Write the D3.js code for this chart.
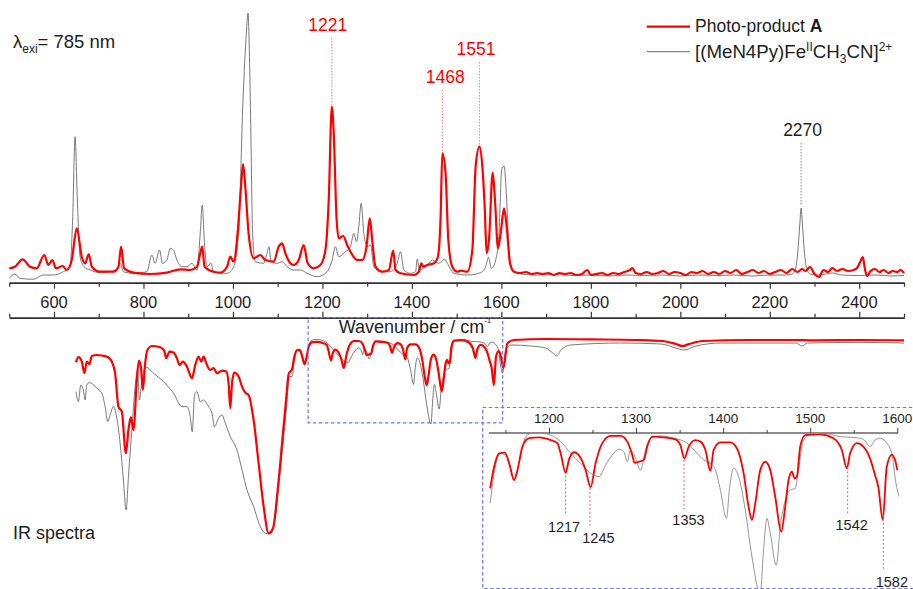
<!DOCTYPE html>
<html><head><meta charset="utf-8">
<script src="https://cdn.jsdelivr.net/npm/d3@7"></script>
<style>
html,body{margin:0;padding:0;background:#fff;}
svg{display:block;font-family:Arial,"Liberation Sans",Helvetica,sans-serif;}
</style></head><body>
<svg id="chart" width="913" height="589"></svg>
<script>
// ---------------- DATA ----------------
// Raman (lambda_exi = 785 nm): [wavenumber cm-1, intensity a.u.]
const ramanRed = [[500,11.7],[512.8,13.3],[530,20.7],[546.3,13.3],[561.3,11.7],[578.3,25],[587.3,15],[596.3,20],[604.5,11.7],[619.5,14],[628.5,10],[639.7,20],[650.9,51.7],[662.1,23.3],[669.5,16.7],[677.7,26],[684.5,13.3],[703,8.3],[732.8,8.3],[744,13.3],[750,33.3],[756.8,11.7],[777.6,7.3],[815,6],[852.4,7.3],[882.1,10.7],[904.5,10],[919.5,13.3],[926.9,26.7],[931.4,33.3],[936.5,13.3],[956.7,8.3],[971.7,7.3],[986.7,13.3],[994.1,23.3],[1001.5,18.3],[1010.4,46.7],[1018,93.3],[1022.5,116],[1027.6,93.3],[1035,46.7],[1046.2,21.7],[1061.2,25],[1072.4,20],[1091,18.3],[1102.2,33.3],[1109.8,36.7],[1117.2,26.7],[1128.4,16.7],[1135.8,15],[1147,20],[1158.2,35],[1167.1,16.7],[1180.5,11.7],[1195.5,15],[1206.7,30],[1214.1,80],[1221,173.3],[1225.3,146.7],[1231.4,63.3],[1236.5,41.7],[1246.4,44],[1255.3,35],[1262.7,28.3],[1277.7,20],[1288.9,20],[1298.5,33.3],[1305.9,61.7],[1311.3,40],[1318.7,13.3],[1333.7,8.3],[1348.5,10],[1358.3,29.3],[1363.4,10],[1374.6,6.7],[1404.4,5],[1415.6,8.3],[1421,16.7],[1425.4,13.3],[1434.4,15],[1449.2,16.7],[1458.1,23.3],[1464.2,63.3],[1468,126.7],[1475.3,106.7],[1481.4,40],[1490.3,13.3],[1501.5,8.3],[1508.9,9.3],[1523.9,8.3],[1535.1,30],[1542.5,113.3],[1551,133.3],[1557.5,113.3],[1562.7,73.3],[1567.1,26.7],[1572.3,40],[1580.6,107.3],[1585.7,80],[1592.4,31.7],[1598.5,46.7],[1605.9,71.7],[1611.9,53.3],[1619.3,16.7],[1628.3,8.3],[1642,7],[1655,8],[1668,6],[1680,7],[1692,6],[1705,7],[1717,5],[1730,7],[1742,6],[1755,7],[1768,5],[1780,6],[1792,10],[1800,5],[1812,6],[1825,7],[1837,5],[1850,7],[1862,6],[1875,8],[1887,10],[1893,12],[1900,7],[1912,6],[1925,8],[1937,6],[1950,7],[1962,9],[1975,6],[1987,8],[2000,7],[2012,5],[2025,8],[2037,7],[2050,9],[2062,6],[2075,8],[2087,6],[2100,9],[2112,7],[2125,10],[2137,6],[2150,8],[2162,10],[2175,7],[2187,9],[2200,6],[2212,8],[2225,10],[2237,7],[2250,11],[2262,8],[2272,11],[2280,9],[2290,13],[2300,6],[2310,3],[2320,10],[2330,8],[2340,12],[2350,9],[2362,11],[2375,9],[2387,10],[2395,12],[2402,18],[2408,23],[2413,10],[2418,4],[2425,9],[2435,11],[2445,8],[2455,10],[2465,7],[2475,9],[2485,8],[2492,10],[2500,7]];
const ramanGray = [[500,1.7],[512.8,6],[524,1.7],[553.7,0.7],[576.1,5],[598.5,5],[620.9,8.3],[635.9,13.3],[641.9,63.3],[647.1,143.3],[652.2,80],[658.3,23.3],[667.2,13.3],[680.7,10],[703,7.3],[740.4,10],[747.8,16.7],[755.2,8.3],[777.6,6.7],[807.6,8.3],[818.8,25],[826.2,16.7],[835.8,30],[842.5,16.7],[852.4,20],[859.7,31.7],[867.1,30],[874.7,20],[885.9,13.3],[897.1,13.3],[908.3,16.7],[919.5,10],[926.9,46.7],[931.4,75],[935.9,40],[941.9,13.3],[950.9,16.7],[956.7,8.3],[986.7,6.7],[1001.5,13.3],[1012.6,46.7],[1022.5,180],[1029.9,246.7],[1033.7,266.7],[1038.8,180],[1044,46.7],[1050,18.3],[1068.6,16.7],[1076.2,26.7],[1080.7,33.3],[1085.2,18.3],[1098.6,16.7],[1109.8,18.3],[1121,13.3],[1135.8,10],[1150.8,10],[1165.8,6.7],[1188.1,3.3],[1210.5,8.3],[1221.7,20],[1229.1,33.3],[1236.5,23.3],[1251.5,28.3],[1262.7,33.3],[1270.1,46.7],[1276.1,38.3],[1281.3,53.3],[1286.6,76.7],[1292.5,46.7],[1300.1,33.3],[1307.5,35],[1314.9,13.3],[1329.8,8.3],[1352.2,8.3],[1367.2,16.7],[1374.6,28.3],[1382,10],[1397,6.7],[1408.2,8.3],[1412,20.7],[1416.5,10],[1434.4,15],[1445.6,20],[1460.4,16.7],[1473.1,20.7],[1479.2,16.7],[1494,6.7],[1523.9,5],[1553.7,7.3],[1564.9,13.3],[1571,22.7],[1577.7,11.7],[1587.3,20],[1594.7,46.7],[1600.7,110],[1605.9,114],[1611.9,80],[1617.1,30],[1624.7,10],[1643.3,6],[1680,5],[1720,5.5],[1760,4.5],[1800,5],[1840,4],[1880,5],[1920,4.5],[1960,5],[2000,4],[2040,5],[2080,4.5],[2120,5],[2160,4],[2200,5],[2235,5],[2250,6],[2258,12],[2263,30],[2267,55],[2270,72],[2273,55],[2277,30],[2282,12],[2290,6],[2310,5],[2340,7],[2360,5],[2400,4.5],[2440,5],[2470,4],[2500,4.5]];

// IR spectra: [wavenumber cm-1, transmittance a.u.]
const irRed = [[649,93.9],[654.5,96.4],[662.1,94.2],[667.9,88.4],[673.3,94.2],[679.1,92.9],[684.5,97],[695.7,97.5],[718,96.7],[729.2,94.2],[736.6,88.4],[744,71.7],[751.6,69.2],[760.6,48.4],[766.4,60],[771.8,66.4],[777.6,60],[785.2,85],[789.7,94.7],[794.2,91.7],[798.6,80],[803.8,93.4],[808.9,100],[818.8,102],[837.4,101.4],[846.3,99.7],[850.8,95.9],[858.2,99.2],[867.1,98.7],[874.7,95.9],[880.6,92.5],[888.2,94.2],[897.1,91.7],[908.3,85.9],[915.7,92.5],[923.1,96.7],[929.1,94.2],[934.3,96.7],[941.9,92.5],[949.3,90],[956.7,90.9],[964.3,88.4],[975.5,89.7],[985.1,89.2],[990.2,83.4],[994.1,70.9],[997.9,83.4],[1003,88.7],[1012.6,86.7],[1020.3,81.7],[1027.6,78.7],[1035,77.5],[1046.2,65],[1057.4,43.4],[1068.6,21.7],[1079.8,8.4],[1089.6,10.9],[1100,30],[1109.8,53.4],[1119.4,76.7],[1124.6,88],[1132.4,90.7],[1137,96.4],[1142.7,99.9],[1149.2,100.1],[1154.2,97.3],[1159.9,92.9],[1163.8,95.5],[1169.5,101.7],[1177.1,103.9],[1188.5,104.1],[1202,103.4],[1209.6,102.6],[1213.4,99.9],[1219.1,94.8],[1222.9,98.2],[1228.7,100.2],[1235.5,99],[1242.1,95.5],[1247.8,91],[1253.5,97.3],[1261.2,102.6],[1270.7,104.5],[1282.2,104.5],[1289.9,103],[1295.6,99.5],[1298.2,97.4],[1303.2,97.7],[1308.9,98.2],[1312.8,101.7],[1318.5,104.3],[1331.8,104.1],[1345.2,103.6],[1350.9,102.1],[1355.5,98.6],[1360.5,101.7],[1368.1,103.4],[1373.9,103],[1379.6,100.8],[1385.3,95.3],[1389.1,100.8],[1396.8,102.8],[1408.3,102.8],[1415.9,101.2],[1423.5,94.7],[1429.2,85.9],[1433.1,82.4],[1436.9,86.8],[1442.6,95.5],[1448.4,97.7],[1454.1,95.5],[1459.8,88.5],[1466.7,79.3],[1471.3,85.9],[1475.1,92.9],[1479,95.1],[1482,93.3],[1484.7,93.8],[1488.5,101.7],[1494.2,104.7],[1511.4,104.9],[1526.6,103.9],[1536.3,100.8],[1542,96],[1545.8,99.9],[1553.5,102.6],[1561,101.7],[1568.7,98.6],[1574.4,94.2],[1578.2,91.1],[1583.3,82.4],[1587.9,96.4],[1593.6,99.5],[1597.4,98.2],[1600,95.5],[1604.5,91],[1613.5,103.4],[1628.3,105],[1700,105.5],[1800,105.3],[1900,105],[1960,104.5],[1990,103],[2005,102],[2020,103],[2050,104.5],[2150,105],[2250,105],[2300,104.8],[2400,105],[2500,104.8]];
const irGray = [[649,79.2],[654.5,74.2],[659.8,82.5],[665.7,80],[669.5,75],[673.3,82.5],[679.1,83.7],[695.7,80.9],[706.8,78.4],[714.2,71.7],[720.3,64.2],[725.4,67.5],[732.8,71.7],[740.4,65.9],[747.8,53.4],[755.2,35],[761.2,20],[766.4,36.7],[774,60],[781.4,81.7],[786.5,90],[791,75],[796.4,85],[806,91.4],[822.4,88.4],[844.7,84.2],[867.1,78.4],[885.9,71.7],[897.1,71.7],[904.5,66.7],[909,59.2],[914.1,77.5],[919.5,79.2],[926.9,74.2],[934.3,75],[945.5,71.7],[953.1,68.4],[958.9,61.7],[967.9,65.9],[975.5,67.5],[982.9,63.4],[994.1,56.7],[1009.1,50],[1020.3,40],[1031.4,30],[1046.2,21.7],[1061.2,11.7],[1072.4,8.4],[1083.6,8],[1094.8,16.7],[1106,40],[1117.2,65],[1126.8,86.7],[1132.4,86.8],[1137,94.7],[1144.6,99.9],[1152.3,99],[1159.9,93.3],[1165.6,97.3],[1173.3,104.3],[1181,105.2],[1190.5,105.2],[1202,104.7],[1213.4,103],[1224.9,99.9],[1236.3,97.3],[1247.8,94.7],[1257.3,93.8],[1265,96.8],[1272.7,99.5],[1280.2,101],[1286,100.3],[1289.9,97.7],[1293.6,100.8],[1299.4,98.6],[1305.1,95.5],[1310.8,100.8],[1316.6,103.9],[1328,104.5],[1343.3,103.9],[1358.6,102.6],[1370.1,99.9],[1377.6,98.2],[1385.3,97.3],[1391.1,95.5],[1396.8,90.3],[1403.7,82.8],[1407.5,91.1],[1412,96],[1417.8,93.8],[1425.4,85],[1433.1,72.7],[1442.6,63],[1446.4,74.5],[1450.3,82.8],[1454.1,78.9],[1461,70.5],[1465.6,80.6],[1471.3,87.6],[1477.1,90.3],[1482.8,90.7],[1486.5,95.5],[1492.3,103.4],[1499.9,104.9],[1515.2,105.2],[1534.3,104.3],[1549.6,104.1],[1561,103.6],[1568.7,101.7],[1574.4,103.4],[1580.2,103.9],[1587.9,102.6],[1593.6,99.9],[1598.5,92],[1602.3,88.4],[1609.7,100],[1620.9,102.5],[1665.6,102],[1699,101],[1715,98.5],[1724,97],[1733,100],[1755,102.5],[1867,103.5],[1957,103],[1990,101],[2008,100],[2035,102],[2091,103.5],[2258,103.5],[2272,102],[2284,103.5],[2400,103.8],[2500,103.5]];

// tick values
const mainMajorTicks = [600,800,1000,1200,1400,1600,1800,2000,2200,2400];
const mainMinorTicks = [500,700,900,1100,1300,1500,1700,1900,2100,2300,2500];
const insetMajorTicks = [1200,1300,1400,1500,1600];
const insetMinorTicks = [1150,1250,1350,1450,1550];

// annotated peaks
const ramanPeakWn = [1221,1468,1551,2270];
const ramanPeakText = ["1221","1468","1551","2270"];
const ramanPeakSeries = ["red","red","red","gray"];
const irPeakWn = [1219,1247,1355,1543,1584];
const irPeakText = ["1217","1245","1353","1542","1582"];
const zoomWindow = [1168,1603];
const zoomWindowMinT = 63.6;

// ---------------- LAYOUT ----------------
const RED = "#ff0000", GRAY = "#6a6a6a", INK = "#1e1e1e", BLUE = "#7272ff";
const ramanLabelBaseline = [31, 82.7, 55, 136];
const ramanLabelDx = [-4, 3, -3.5, 1.5];
const irLabelBaseline = [531.7, 543.3, 525, 530, 586.7];
const irLabelDx = [-1.5, 8.5, 4.5, 4, 8.5];

const svg = d3.select("#chart");
const xMain = d3.scaleLinear().domain([500,2500]).range([9.26,904]);
const yRaman = d3.scaleLinear().domain([0,270]).range([280,10]);
const yIR = d3.scaleLinear().domain([0,110]).range([550,330]);
const xInset = d3.scaleLinear().domain([1200,1600]).range([549,897.3]);
const yInset = d3.scaleLinear().domain([64.5,105]).range([588,434]);

const mk = (xs, ys) => d3.line().x(d => xs(d[0])).y(d => ys(d[1])).curve(d3.curveMonotoneX);

// ---- Raman traces
svg.append("path").datum(ramanGray).attr("d", mk(xMain,yRaman))
  .attr("fill","none").attr("stroke",GRAY).attr("stroke-width",0.9);
svg.append("path").datum(ramanRed).attr("d", mk(xMain,yRaman))
  .attr("fill","none").attr("stroke",RED).attr("stroke-width",2.2).attr("stroke-linejoin","round");

// ---- IR traces (main)
svg.append("path").datum(irGray).attr("d", mk(xMain,yIR))
  .attr("fill","none").attr("stroke",GRAY).attr("stroke-width",0.9);
svg.append("path").datum(irRed).attr("d", mk(xMain,yIR))
  .attr("fill","none").attr("stroke",RED).attr("stroke-width",2.2).attr("stroke-linejoin","round");

// ---- axes
function styleAxis(g, color, w){
  g.select(".domain").attr("stroke",color).attr("stroke-width",w);
  g.selectAll(".tick line").attr("stroke",color).attr("stroke-width",1.2);
  g.selectAll(".tick text").remove();
}
const topAxisY = 282.7, botAxisY = 317.7;
let g = svg.append("g").attr("transform",`translate(0,${topAxisY})`)
  .call(d3.axisBottom(xMain).tickValues(mainMajorTicks).tickSize(6).tickSizeOuter(0));
styleAxis(g,"#333",1.4);
g = svg.append("g").attr("transform",`translate(0,${topAxisY})`)
  .call(d3.axisBottom(xMain).tickValues(mainMinorTicks).tickSize(4).tickSizeOuter(0));
styleAxis(g,"#333",1.4);
g = svg.append("g").attr("transform",`translate(0,${botAxisY})`)
  .call(d3.axisTop(xMain).tickValues(mainMajorTicks).tickSize(6).tickSizeOuter(0));
styleAxis(g,"#333",1.4);
g = svg.append("g").attr("transform",`translate(0,${botAxisY})`)
  .call(d3.axisTop(xMain).tickValues(mainMinorTicks).tickSize(4).tickSizeOuter(0));
styleAxis(g,"#333",1.4);

svg.append("g").selectAll("text").data(mainMajorTicks).join("text")
  .attr("x", d => xMain(d)).attr("y", 307.7).attr("text-anchor","middle")
  .attr("font-size",16.5).attr("fill",INK).text(d => d);

const xt = svg.append("text").attr("x",415).attr("y",333.3).attr("text-anchor","middle")
  .attr("font-size",18).attr("fill",INK);
xt.append("tspan").text("Wavenumber / cm");
xt.append("tspan").attr("font-size",8).attr("dy",-10).text("-1");

// ---- zoom window box in main IR
svg.append("rect")
  .attr("x", xMain(zoomWindow[0])).attr("y", botAxisY)
  .attr("width", xMain(zoomWindow[1]) - xMain(zoomWindow[0]))
  .attr("height", yIR(zoomWindowMinT) - botAxisY)
  .attr("fill","none").attr("stroke",BLUE).attr("stroke-width",1.2).attr("stroke-dasharray","3.5,2.5");

// ---- inset
const insetBox = {x:482.7, y:407.5, w:440, h:181};
svg.append("rect").attr("x",insetBox.x).attr("y",insetBox.y).attr("width",insetBox.w).attr("height",insetBox.h)
  .attr("fill","none").attr("stroke",BLUE).attr("stroke-width",1.2).attr("stroke-dasharray","3.5,2.5");

const insetDomain = [xInset.invert(489), 1600.8];
svg.append("defs").append("clipPath").attr("id","insetClip")
  .append("rect").attr("x",489).attr("y",433).attr("width",410).attr("height",156);
const inG = svg.append("g").attr("clip-path","url(#insetClip)");
const inRange = d => d[0] >= insetDomain[0]-3 && d[0] <= insetDomain[1]+3;
inG.append("path").datum(irGray.filter(inRange)).attr("d", mk(xInset,yInset))
  .attr("fill","none").attr("stroke","#8a8a8a").attr("stroke-width",0.9);
inG.append("path").datum(irRed.filter(inRange)).attr("d", mk(xInset,yInset))
  .attr("fill","none").attr("stroke",RED).attr("stroke-width",1.8).attr("stroke-linejoin","round");

const insetAxisY = 433;
svg.append("line").attr("x1",xInset(insetDomain[0])).attr("x2",xInset(insetDomain[1]))
  .attr("y1",insetAxisY).attr("y2",insetAxisY).attr("stroke","#8c8c8c").attr("stroke-width",2);
g = svg.append("g").attr("transform",`translate(0,${insetAxisY})`)
  .call(d3.axisTop(xInset).tickValues(insetMajorTicks).tickSize(5).tickSizeOuter(0));
g.select(".domain").remove(); g.selectAll(".tick text").remove();
g.selectAll(".tick line").attr("stroke","#444").attr("stroke-width",1);
g = svg.append("g").attr("transform",`translate(0,${insetAxisY})`)
  .call(d3.axisTop(xInset).tickValues(insetMinorTicks).tickSize(3).tickSizeOuter(0));
g.select(".domain").remove(); g.selectAll(".tick text").remove();
g.selectAll(".tick line").attr("stroke","#444").attr("stroke-width",1);
svg.append("g").selectAll("text").data(insetMajorTicks).join("text")
  .attr("x", d => xInset(d)).attr("y", 423).attr("text-anchor","middle")
  .attr("font-size",13.5).attr("fill",INK).text(d => d);

// IR peak annotations (inset)
const interp = (series, w) => {
  for (let i = 1; i < series.length; i++) {
    if (series[i][0] >= w) {
      const a = series[i-1], b = series[i], t = (w - a[0]) / (b[0] - a[0]);
      return a[1] + t * (b[1] - a[1]);
    }
  }
  return series[series.length-1][1];
};
irPeakWn.forEach((w,i) => {
  const xx = xInset(w);
  const y0 = yInset(interp(irRed, w)) + 3;
  svg.append("line").attr("x1",xx).attr("x2",xx).attr("y1",y0).attr("y2",irLabelBaseline[i]-16)
    .attr("stroke","#ff5a5a").attr("stroke-width",1).attr("stroke-dasharray","2,2");
  svg.append("text").attr("x",xx + irLabelDx[i]).attr("y",irLabelBaseline[i])
    .attr("text-anchor","middle").attr("font-size",14.5).attr("fill",INK).text(irPeakText[i]);
});

// Raman peak annotations
ramanPeakWn.forEach((w,i) => {
  const series = ramanPeakSeries[i] === "red" ? ramanRed : ramanGray;
  const top = d3.max(series.filter(d => Math.abs(d[0]-w) < 4), d => d[1]);
  const xx = xMain(w);
  const col = ramanPeakSeries[i] === "red" ? RED : INK;
  svg.append("line").attr("x1",xx).attr("x2",xx).attr("y1",ramanLabelBaseline[i]+7).attr("y2",yRaman(top)-2)
    .attr("stroke", ramanPeakSeries[i] === "red" ? "#ff7a7a" : "#888")
    .attr("stroke-width",1).attr("stroke-dasharray","1.5,1.5");
  svg.append("text").attr("x",xx + ramanLabelDx[i]).attr("y",ramanLabelBaseline[i])
    .attr("text-anchor","middle").attr("font-size",17.5).attr("fill",col).text(ramanPeakText[i]);
});

// ---- excitation label
const lt = svg.append("text").attr("x",13).attr("y",47.7).attr("font-size",18.5).attr("fill",INK);
lt.append("tspan").text("λ");
lt.append("tspan").attr("font-size",12).attr("dy",5).text("exi");
lt.append("tspan").attr("dy",-5).text("= 785 nm");

// ---- IR label
svg.append("text").attr("x",13).attr("y",539).attr("font-size",18).attr("fill",INK).text("IR spectra");

// ---- legend
svg.append("line").attr("x1",646.7).attr("x2",690).attr("y1",26.7).attr("y2",26.7)
  .attr("stroke",RED).attr("stroke-width",2.2);
const l1 = svg.append("text").attr("x",695).attr("y",32.3).attr("font-size",17.5).attr("fill",INK);
l1.append("tspan").text("Photo-product ");
l1.append("tspan").attr("font-weight","bold").text("A");
svg.append("line").attr("x1",646.7).attr("x2",690).attr("y1",51.7).attr("y2",51.7)
  .attr("stroke",GRAY).attr("stroke-width",1);
const l2 = svg.append("text").attr("x",695).attr("y",58.3).attr("font-size",18.7).attr("fill",INK);
l2.append("tspan").text("[(MeN4Py)Fe");
l2.append("tspan").attr("font-size",12).attr("dy",-7.5).text("II");
l2.append("tspan").attr("dy",7.5).text("CH");
l2.append("tspan").attr("font-size",12).attr("dy",5).text("3");
l2.append("tspan").attr("dy",-5).text("CN]");
l2.append("tspan").attr("font-size",12).attr("dy",-7.5).text("2+");
</script>
</body></html>
